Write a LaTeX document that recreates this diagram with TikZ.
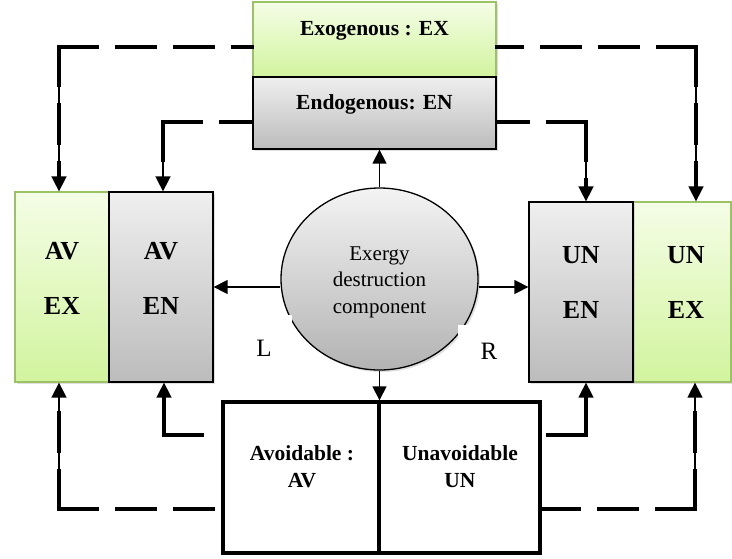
\documentclass[tikz,border=0pt]{standalone}
\usepackage{fontspec}
\setmainfont{Liberation Serif}
\usetikzlibrary{arrows.meta,shadows,calc,shapes.geometric}
\definecolor{grnA}{HTML}{F4FDE6}
\definecolor{grnB}{HTML}{D2F49E}
\definecolor{grnE}{HTML}{9DC266}
\definecolor{gryA}{HTML}{EFEFEF}
\definecolor{gryB}{HTML}{BCBCBC}
\begin{document}
\begin{tikzpicture}[x=1pt,y=-1pt,
  shad/.style={drop shadow={shadow xshift=2pt,shadow yshift=-2pt,opacity=0.25}},
  greenbox/.style={rectangle,draw=grnE,line width=1.3pt,top color=grnA,bottom color=grnB,inner sep=0pt,shad},
  graybox/.style={rectangle,draw=black,line width=1.3pt,top color=gryA,bottom color=gryB,inner sep=0pt,shad},
  whitebox/.style={rectangle,draw=black,line width=3.4pt,fill=white,inner sep=0pt},
  btxt/.style={font=\fontsize{21.5}{27}\selectfont\bfseries,align=center,inner sep=0pt},
  bigtxt/.style={font=\fontsize{26}{55}\selectfont\bfseries,align=center,inner sep=0pt},
  rtxt/.style={font=\fontsize{21}{26.5}\selectfont,align=center,inner sep=0pt},
  lbltxt/.style={font=\fontsize{25}{28}\selectfont,inner sep=0pt},
  mask/.style={rectangle,fill=white,inner sep=0pt},
  arr/.style={line width=1.5pt,-{Triangle[length=14pt,width=14pt]}},
  dashc/.style={line width=4pt,dash pattern=on 38pt off 20pt,line cap=rect},
  thinc/.style={line width=1.6pt,-{Triangle[length=15pt,width=15pt]}}
]
\useasboundingbox (0,0) rectangle (732,558);

% top boxes
\node[greenbox,minimum width=243pt,minimum height=75pt] (ex) at (374.5,39.5) {};
\node[graybox,minimum width=243pt,minimum height=72pt] (en) at (374.5,113) {};
\node[btxt] (tex) at (374.5,31) {Exogenous : EX};
\node[btxt] (ten) at (374.5,104.5) {Endogenous: EN};

% left boxes
\node[greenbox,minimum width=94pt,minimum height=190pt] (avex) at (62,287) {};
\node[graybox,minimum width=104pt,minimum height=190pt] (aven) at (161,287) {};
\node[bigtxt] (tavex) at (62,278) {AV\\EX};
\node[bigtxt] (taven) at (161,278) {AV\\EN};

% right boxes
\node[greenbox,minimum width=98pt,minimum height=180pt] (unex) at (682,292) {};
\node[graybox,minimum width=104pt,minimum height=180pt] (unen) at (581,292) {};
\node[bigtxt] (tunen) at (581,282) {UN\\EN};
\node[bigtxt] (tunex) at (686,282) {UN\\EX};

% bottom boxes
\node[whitebox,minimum width=156pt,minimum height=151pt] (av) at (301,477.5) {};
\node[whitebox,minimum width=161pt,minimum height=151pt] (un) at (459.5,477.5) {};
\node[btxt] (tav) at (302,467) {Avoidable :\\AV};
\node[btxt] (tun) at (460,467) {Unavoidable\\UN};

% circle
\node[ellipse,draw=black,line width=1.3pt,minimum width=197pt,minimum height=182pt,
      top color=gryA!70!white,bottom color=gryB!95!black,inner sep=0pt,shad] (circ) at (379.5,279) {};
\node[rtxt] (tcirc) at (379.5,282) {Exergy\\destruction\\component};

% masks and labels L / R
\node[mask,minimum width=42pt,minimum height=60pt] (Lmask) at (271,345) {};
\node[mask,minimum width=57pt,minimum height=55pt] (Rmask) at (486.5,352.5) {};
\node[lbltxt] (L) at (264,348) {L};
\node[lbltxt] (R) at (489,351) {R};

% solid arrows from the circle
\draw[arr] (circ.north) -- (circ.north |- en.south);
\draw[arr] (circ.south) -- (circ.south |- av.north);
\draw[arr] (circ.west |- aven.east) -- (aven.east);
\draw[arr] (circ.east |- aven.east) -- (unen.west |- aven.east);

% dashed connectors: anchor points on the source boxes
\coordinate (exL) at ([yshift=-7.5pt]ex.west);
\coordinate (exR) at ([yshift=-7.5pt]ex.east);
\coordinate (enL) at ([yshift=-9pt]en.west);
\coordinate (enR) at ([yshift=-9pt]en.east);
\coordinate (avA) at ([yshift=42.5pt]av.west);
\coordinate (avB) at ([yshift=-31.5pt]av.west);
\coordinate (unA) at ([yshift=42.5pt]un.east);
\coordinate (unB) at ([yshift=-31.5pt]un.east);
% corners
\coordinate (k1) at (exL -| 59,0);
\coordinate (k2) at (enL -| 163,0);
\coordinate (k3) at (exR -| 696,0);
\coordinate (k4) at (enR -| 586,0);
\coordinate (k5) at (avB -| 59,0);
\coordinate (k6) at (avA -| 164,0);
\coordinate (k7) at (unA -| 586,0);
\coordinate (k8) at (unB -| 695,0);

\foreach \k/\s/\t in {k1/exL/avex.north,k2/enL/aven.north,k3/exR/unex.north,k4/enR/unen.north,
                      k5/avB/avex.south,k6/avA/aven.south,k7/unA/unen.south,k8/unB/unex.south}{
  \draw[dashc] (\k) -- (\s);
  \draw[dashc,shorten >=15pt] (\k) -- (\k |- \t);
  \draw[thinc] (\k) -- (\k |- \t);
}
\end{tikzpicture}
\end{document}
